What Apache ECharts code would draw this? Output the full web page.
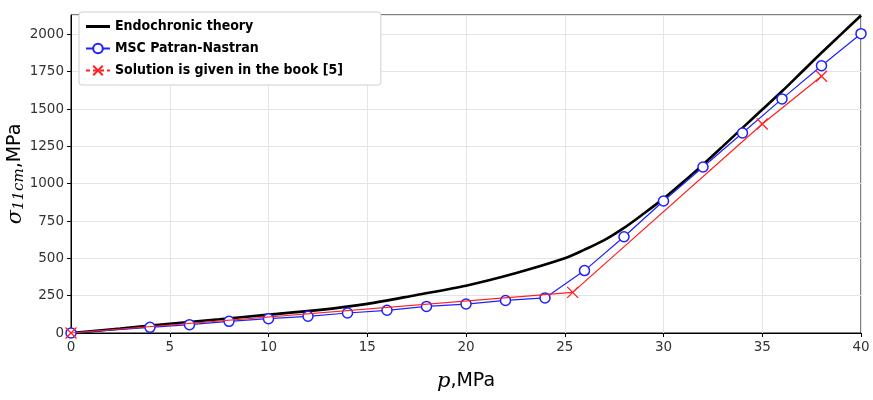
<!DOCTYPE html>
<html>
<head>
<meta charset="utf-8">
<script src="https://cdn.jsdelivr.net/npm/echarts@6/dist/echarts.min.js"></script>
<style>
  html, body { margin: 0; padding: 0; background: #fff; }
  #chart { width: 873px; height: 400px; }
</style>
</head>
<body>
<div id="chart"></div>
<script>
// series names
var seriesNames = ['Endochronic theory', 'MSC Patran-Nastran', 'Solution is given in the book [5]'];

// endochronic theory curve (p, sigma)
var endoP = [0, 2.5, 5, 7.5, 10, 12.5, 15, 17.5, 20, 22.5, 25, 26, 27, 28, 29, 30, 31, 32, 33, 34, 35, 36, 37, 38, 39, 40];
var endoS = [0, 30, 62, 92, 123, 153, 195, 255, 317, 400, 500, 558, 622, 704, 800, 900, 1012, 1128, 1250, 1374, 1497, 1619, 1748, 1877, 2002, 2127];

// MSC Patran-Nastran points
var mscP = [0, 4, 6, 8, 10, 12, 14, 16, 18, 20, 22, 24, 26, 28, 30, 32, 34, 36, 38, 40];
var mscS = [0, 38, 56, 78, 96, 112, 134, 152, 178, 194, 218, 235, 418, 645, 884, 1112, 1340, 1568, 1790, 2005];

// solution from the book
var bookP = [0, 25.4, 35, 38];
var bookS = [0, 272, 1400, 1720];

// axes ticks
var xTicks = [0, 5, 10, 15, 20, 25, 30, 35, 40];
var yTicks = [0, 250, 500, 750, 1000, 1250, 1500, 1750, 2000];

function pairs(xs, ys) {
    var out = [];
    for (var i = 0; i < xs.length; i++) out.push([xs[i], ys[i]]);
    return out;
}

var crossPath = 'path://M0,0L10,10M10,0L0,10';
var tickFont = '"DejaVu Sans", sans-serif';
var legendFont = '"DejaVu Sans Condensed", "DejaVu Sans", sans-serif';

var chart = echarts.init(document.getElementById('chart'));
var option = {
    animation: false,
    backgroundColor: '#fff',
    grid: {
        left: 71, right: 12, top: 15, bottom: 67,
        outerBoundsMode: 'none',
        containLabel: false,
        show: true, borderColor: '#000', borderWidth: 1, backgroundColor: 'transparent'
    },
    legend: {
        orient: 'vertical',
        left: 79, top: 12,
        padding: [6, 38, 6, 6],
        itemGap: 5,
        itemWidth: 24,
        itemHeight: 12,
        backgroundColor: '#fff',
        borderColor: '#cfcfcf',
        borderWidth: 1,
        borderRadius: 3,
        textStyle: { fontFamily: legendFont, fontWeight: 'bold', fontSize: 14, color: '#000', lineHeight: 17 },
        data: [
            { name: seriesNames[0], icon: 'path://M0,4L24,4L24,7L0,7Z', itemStyle: { color: '#000' } },
            { name: seriesNames[1] },
            { name: seriesNames[2], lineStyle: { type: [4, 3] } }
        ]
    },
    xAxis: {
        type: 'value',
        min: 0, max: 40, interval: 5,
        name: '{i|p},MPa',
        nameLocation: 'middle',
        nameGap: 38,
        nameMoveOverlap: false,
        nameTextStyle: {
            fontSize: 19, color: '#000', fontFamily: tickFont,
            rich: { i: { fontFamily: '"DejaVu Serif", serif', fontStyle: 'italic', fontSize: 21 } }
        },
        axisLine: { show: true, lineStyle: { color: '#000', width: 1 } },
        axisTick: { show: true, inside: false, length: 4, lineStyle: { color: '#000' } },
        axisLabel: { fontSize: 13.5, color: '#333', fontFamily: tickFont, margin: 7 },
        splitLine: { show: true, lineStyle: { color: '#e4e4e4', width: 1 } }
    },
    yAxis: {
        type: 'value',
        min: 0, max: 2130, interval: 250,
        name: '{s|σ}{sub|11cm},MPa',
        nameLocation: 'middle',
        nameRotate: 90,
        nameGap: 44,
        nameMoveOverlap: false,
        nameTextStyle: {
            fontSize: 19, color: '#000', fontFamily: tickFont,
            rich: {
                s: { fontFamily: '"DejaVu Serif", serif', fontStyle: 'italic', fontSize: 21 },
                sub: { fontFamily: '"DejaVu Serif", serif', fontStyle: 'italic', fontSize: 15, verticalAlign: 'bottom', padding: [8, 0, 0, 0] }
            }
        },
        axisLine: { show: true, lineStyle: { color: '#000', width: 1 } },
        axisTick: { show: true, inside: false, length: 4, lineStyle: { color: '#000' } },
        axisLabel: {
            fontSize: 13.5, color: '#333', fontFamily: tickFont, margin: 7,
            showMaxLabel: false,
            formatter: function (v) { return yTicks.indexOf(v) >= 0 ? String(v) : ''; }
        },
        splitLine: { show: true, lineStyle: { color: '#e4e4e4', width: 1 } }
    },
    series: [
        {
            name: seriesNames[0],
            type: 'line',
            data: pairs(endoP, endoS),
            smooth: 0.3,
            showSymbol: false,
            symbol: 'none',
            lineStyle: { color: '#000', width: 2.6 },
            itemStyle: { color: '#000' },
            z: 2
        },
        {
            name: seriesNames[1],
            type: 'line',
            data: pairs(mscP, mscS),
            symbol: 'circle',
            symbolSize: 10,
            lineStyle: { color: '#2020ff', width: 1.2 },
            itemStyle: { color: '#fff', borderColor: '#2020ff', borderWidth: 1.5 },
            z: 3
        },
        {
            name: seriesNames[2],
            type: 'line',
            data: pairs(bookP, bookS),
            symbol: crossPath,
            symbolSize: 11,
            lineStyle: { color: '#ff2020', width: 1.2 },
            itemStyle: { color: '#ff2020', borderColor: '#ff2020', borderWidth: 1.3 },
            z: 4
        }
    ]
};
chart.setOption(option);
</script>
</body>
</html>
